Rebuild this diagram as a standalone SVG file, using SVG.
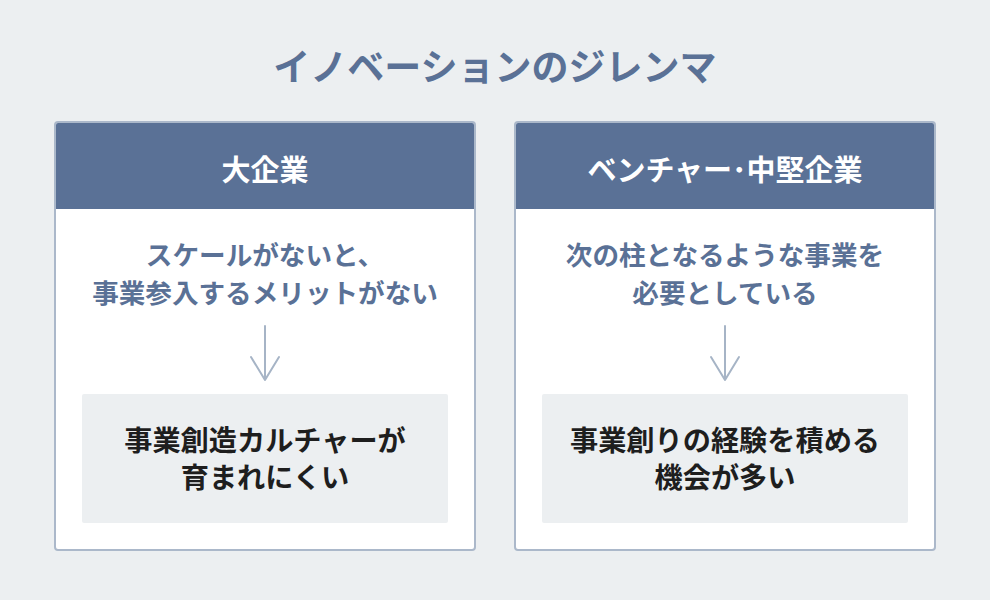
<svg xmlns="http://www.w3.org/2000/svg" width="990" height="600" viewBox="0 0 990 600">
<defs>
<style>
.bg{fill:#eceff1}
.card{fill:#ffffff;stroke:#abb8ca;stroke-width:2}
.head{fill:#5a7196}
.inner{fill:#eceff1}
.t{font-family:"Noto Sans CJK JP","Noto Sans",sans-serif;text-anchor:middle}
.title{font-size:37px;font-weight:700;fill:#5a7196}
.htxt{font-size:29px;font-weight:700;fill:#ffffff}
.btxt{font-size:26.6px;font-weight:600;fill:#5a7196}
.ktxt{font-size:28.2px;font-weight:600;fill:#1e1e1e}
.arrow{fill:none;stroke:#a6b4c6;stroke-width:2;stroke-linecap:round;stroke-linejoin:round}
</style>
</defs>
<rect class="bg" x="0" y="0" width="990" height="600"/>
<text class="t title" x="495" y="81">イノベーションのジレンマ</text>

<g id="card-large">
<rect class="card" x="55" y="122" width="420" height="428" rx="3"/>
<path class="head" d="M58,123 H472 A2,2 0 0 1 474,125 V209 H56 V125 A2,2 0 0 1 58,123 Z"/>
<text class="t htxt" x="265" y="181">大企業</text>
<text class="t btxt" x="265" y="265">スケールがないと、</text>
<text class="t btxt" x="265" y="303">事業参入するメリットがない</text>
</g>
<g id="result-large">
<rect class="inner" x="82" y="394" width="366" height="129" rx="2"/>
<text class="t ktxt" x="265" y="451">事業創造カルチャーが</text>
<text class="t ktxt" x="265" y="488">育まれにくい</text>
</g>

<g id="card-venture">
<rect class="card" x="515" y="122" width="420" height="428" rx="3"/>
<path class="head" d="M518,123 H932 A2,2 0 0 1 934,125 V209 H516 V125 A2,2 0 0 1 518,123 Z"/>
<text class="t htxt" x="725" y="181">ベンチャー･中堅企業</text>
<text class="t btxt" x="725" y="265">次の柱となるような事業を</text>
<text class="t btxt" x="725" y="303">必要としている</text>
</g>
<g id="result-venture">
<rect class="inner" x="542" y="394" width="366" height="129" rx="2"/>
<text class="t ktxt" x="725" y="451">事業創りの経験を積める</text>
<text class="t ktxt" x="725" y="488">機会が多い</text>
</g>

<g id="connectors">
<path class="arrow" d="M265,326 V380 M251,357 L265,380 L279,357"/>
<path class="arrow" d="M725,326 V380 M711,357 L725,380 L739,357"/>
</g>
</svg>
